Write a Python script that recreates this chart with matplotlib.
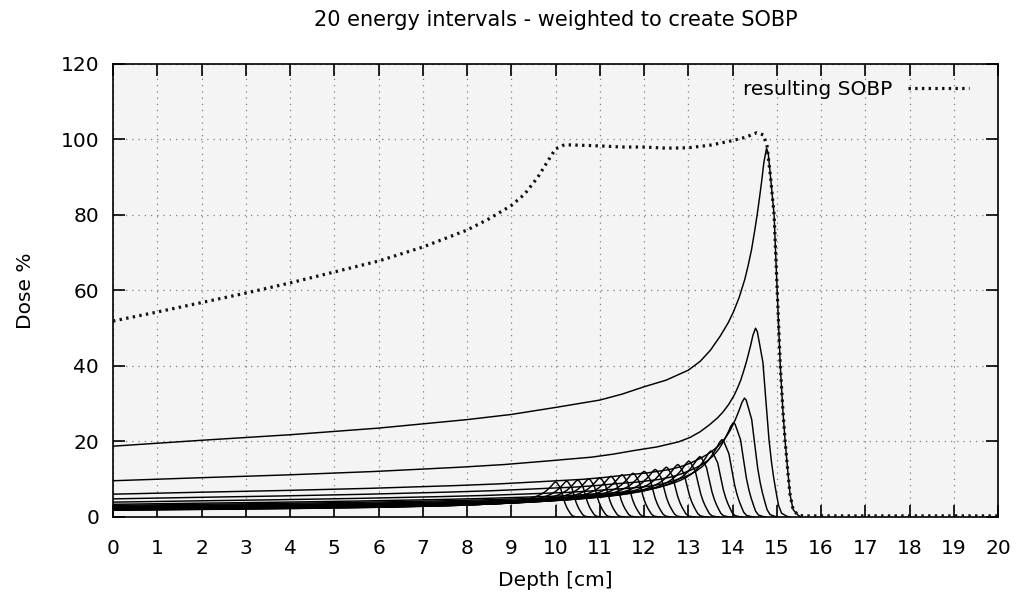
import numpy as np
import matplotlib
matplotlib.use("Agg")
import matplotlib.pyplot as plt

# Pristine Bragg peak: depth as a fraction of the peak depth, dose relative to the peak dose
shape_depth_frac = [0.0000, 0.1354, 0.2708, 0.4062, 0.5416, 0.6093, 0.6770, 0.7448,
                    0.7786, 0.8125, 0.8463, 0.8802, 0.8984, 0.9140, 0.9289, 0.9411,
                    0.9493, 0.9580, 0.9668, 0.9722, 0.9770, 0.9817, 0.9858, 0.9892,
                    0.9926, 0.9959, 1.0000, 1.0027, 1.0061, 1.0115, 1.0162, 1.0210,
                    1.0250, 1.0284, 1.0325, 1.0359, 1.0406, 1.0481, 1.0528]
shape_rel_dose = [0.192, 0.208, 0.223, 0.241, 0.264, 0.278, 0.297, 0.317,
                  0.333, 0.353, 0.371, 0.398, 0.422, 0.452, 0.490, 0.526,
                  0.556, 0.595, 0.645, 0.685, 0.725, 0.775, 0.822, 0.866,
                  0.912, 0.962, 1.000, 0.983, 0.921, 0.819, 0.614, 0.409,
                  0.287, 0.205, 0.123, 0.061, 0.020, 0.005, 0.000]

# The 20 weighted energy intervals: depth of each peak [cm] and its peak dose [%]
peak_depth = [10.00, 10.25, 10.50, 10.75, 11.00, 11.25, 11.50, 11.75, 12.00, 12.25,
              12.50, 12.76, 13.01, 13.26, 13.51, 13.76, 14.02, 14.27, 14.52, 14.77]
peak_dose = [9.3, 9.5, 9.8, 10.1, 10.4, 10.8, 11.2, 11.6, 12.1, 12.6,
             13.2, 13.9, 14.8, 16.0, 17.5, 20.5, 25.0, 31.5, 50.0, 97.7]

# Resulting spread-out Bragg peak
sobp_depth = [0, 1, 2, 3, 4, 5, 6, 7, 8, 8.5, 9, 9.3, 9.6, 9.8, 10.0, 10.2, 10.5, 11,
              11.5, 12, 12.5, 13, 13.5, 14, 14.3, 14.55, 14.7, 14.78, 14.86, 14.94,
              15.01, 15.08, 15.14, 15.19, 15.25, 15.3, 15.37, 15.48, 15.6, 16, 17,
              18, 19, 20]
sobp_dose = [51.9, 54.3, 56.8, 59.3, 62.0, 64.9, 67.8, 71.5, 76.0, 79.0, 82.5, 85.5,
             90.0, 93.8, 97.5, 98.6, 98.5, 98.3, 98.0, 98.0, 97.7, 97.8, 98.5, 99.7,
             100.6, 101.8, 101.2, 98.3, 90.0, 80.0, 60.0, 40.0, 28.0, 20.0, 12.0,
             6.0, 2.0, 0.5, 0.3, 0.3, 0.3, 0.3, 0.3, 0.3]

x_ticks = list(range(0, 21))
y_ticks = [0, 20, 40, 60, 80, 100, 120]

plt.rcParams['font.family'] = ['DejaVu Sans']

fig = plt.figure(figsize=(10.19, 5.99), dpi=100)
ax = fig.add_axes([0.1109, 0.1369, 0.8685, 0.7563])
ax.set_facecolor('#f4f4f4')

frac = np.array(shape_depth_frac)
rel = np.array(shape_rel_dose)
for depth, dose in zip(peak_depth, peak_dose):
    ax.plot(frac * depth, rel * dose, color='black', lw=1.05, zorder=3)

ax.plot(sobp_depth, sobp_dose, color='#111111', lw=2.3,
        linestyle=(0, (0.75, 1.35)), zorder=4, label='resulting SOBP')

ax.set_xlim(0, 20)
ax.set_ylim(0, 120)
ax.set_xticks(x_ticks)
ax.set_yticks(y_ticks)
ax.tick_params(direction='in', length=8.5, width=1.2, top=True, right=True,
               labelsize=14.5, pad=10, colors='black')
ax.tick_params(axis='x', pad=16)
ax.grid(True, color='#808080', linestyle=(0, (1, 4)), lw=0.9)
ax.set_axisbelow(True)
for s in ax.spines.values():
    s.set_linewidth(1.2)

ax.set_title('20 energy intervals - weighted to create SOBP', fontsize=15, pad=27)
ax.set_xlabel('Depth [cm]', fontsize=14.5, labelpad=9)
ax.set_ylabel('Dose %', fontsize=14.5, labelpad=18)

leg = ax.legend(loc='upper right', frameon=False, markerfirst=False, fontsize=14.5,
                handlelength=3.0, borderaxespad=0.4, bbox_to_anchor=(0.985, 1.0))

fig.savefig('out.png', dpi=100, facecolor='white')
